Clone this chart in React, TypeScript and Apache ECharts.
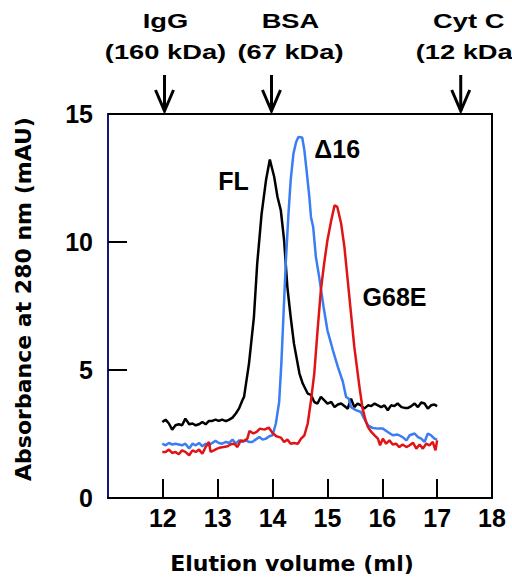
import React, { useEffect, useRef } from 'react';
import * as echarts from 'echarts';

// Elution profiles: [elution volume (ml), absorbance at 280 nm (mAU)]
const flData: [number, number][] = [
  [11.99, 2.97], [12.05, 3.06], [12.11, 2.91], [12.17, 2.67], [12.23, 2.84], [12.29, 2.88], [12.35, 2.84], [12.41, 3.1],
  [12.48, 2.88], [12.54, 2.91], [12.6, 2.84], [12.66, 2.88], [12.72, 2.97], [12.78, 2.88], [12.84, 3.01], [12.9, 3.01],
  [12.96, 3.06], [13.02, 3.01], [13.08, 3.06], [13.15, 3.0], [13.21, 3.06], [13.27, 3.14], [13.33, 3.3], [13.39, 3.5],
  [13.45, 3.82], [13.48, 3.95], [13.57, 5.25], [13.66, 7.07], [13.72, 9.16], [13.8, 11.1], [13.88, 12.41], [13.95, 13.22],
  [14.03, 12.54], [14.09, 11.76], [14.15, 11.24], [14.21, 10.07], [14.27, 8.24], [14.33, 7.07], [14.39, 6.03], [14.49, 4.86],
  [14.55, 4.47], [14.64, 4.08], [14.7, 4.03], [14.76, 3.75], [14.82, 3.69], [14.88, 3.95], [14.94, 3.82], [15.0, 3.69],
  [15.07, 3.75], [15.13, 3.55], [15.19, 3.65], [15.25, 3.69], [15.31, 3.59], [15.37, 3.49], [15.43, 3.88], [15.49, 3.55],
  [15.55, 3.69], [15.61, 3.62], [15.67, 3.49], [15.74, 3.62], [15.8, 3.59], [15.86, 3.69], [15.92, 3.62], [15.98, 3.55],
  [16.04, 3.62], [16.1, 3.43], [16.16, 3.62], [16.22, 3.59], [16.28, 3.69], [16.35, 3.55], [16.41, 3.52], [16.47, 3.52],
  [16.53, 3.59], [16.59, 3.69], [16.65, 3.55], [16.71, 3.73], [16.77, 3.69], [16.83, 3.49], [16.89, 3.62], [16.95, 3.65],
  [17.0, 3.59],
];

const d16Data: [number, number][] = [
  [11.99, 2.12], [12.05, 2.06], [12.11, 2.15], [12.17, 2.09], [12.23, 2.12], [12.29, 2.09], [12.35, 2.06], [12.41, 2.12],
  [12.48, 1.93], [12.54, 2.12], [12.6, 2.06], [12.66, 2.15], [12.72, 2.02], [12.78, 2.12], [12.84, 2.06], [12.9, 2.15],
  [12.96, 2.23], [13.02, 2.15], [13.08, 2.12], [13.15, 2.19], [13.21, 2.15], [13.27, 2.28], [13.33, 2.12], [13.39, 2.25],
  [13.45, 2.19], [13.51, 2.25], [13.57, 2.19], [13.63, 2.19], [13.69, 2.28], [13.76, 2.38], [13.82, 2.28], [13.88, 2.32],
  [13.94, 2.41], [14.0, 2.45], [14.06, 2.91], [14.12, 3.75], [14.16, 5.25], [14.2, 7.2], [14.24, 9.16], [14.29, 11.11],
  [14.33, 12.41], [14.38, 13.45], [14.43, 13.91], [14.47, 14.1], [14.54, 14.08], [14.58, 13.58], [14.62, 12.8], [14.67, 11.76],
  [14.7, 10.98], [14.74, 10.59], [14.79, 9.41], [14.85, 8.63], [14.93, 7.46], [15.0, 6.55], [15.1, 5.77], [15.19, 5.12],
  [15.28, 4.55], [15.34, 3.95], [15.39, 3.88], [15.43, 3.55], [15.52, 3.43], [15.61, 3.36], [15.67, 3.1], [15.74, 2.84],
  [15.83, 2.73], [15.92, 2.71], [16.01, 2.71], [16.1, 2.58], [16.19, 2.45], [16.28, 2.48], [16.37, 2.38], [16.44, 2.25],
  [16.5, 2.45], [16.59, 2.52], [16.65, 2.38], [16.71, 2.32], [16.77, 2.19], [16.83, 2.52], [16.89, 2.45], [16.95, 2.32],
  [17.0, 2.28],
];

const g68eData: [number, number][] = [
  [11.99, 1.8], [12.05, 1.8], [12.11, 1.89], [12.17, 1.76], [12.23, 1.8], [12.29, 1.71], [12.35, 1.86], [12.41, 1.8],
  [12.48, 1.67], [12.54, 1.86], [12.6, 1.8], [12.66, 1.89], [12.72, 1.73], [12.78, 1.99], [12.84, 2.19], [12.87, 1.8],
  [12.93, 1.86], [12.99, 1.93], [13.05, 1.97], [13.11, 1.99], [13.18, 2.02], [13.24, 2.1], [13.3, 2.12], [13.36, 1.99],
  [13.42, 2.25], [13.48, 2.23], [13.54, 2.32], [13.58, 2.62], [13.65, 2.52], [13.71, 2.58], [13.77, 2.71], [13.85, 2.67],
  [13.93, 2.75], [14.0, 2.54], [14.07, 2.41], [14.15, 2.36], [14.21, 2.19], [14.27, 2.28], [14.33, 2.12], [14.39, 2.15],
  [14.46, 2.12], [14.52, 2.32], [14.58, 2.45], [14.64, 2.9], [14.7, 3.8], [14.76, 4.86], [14.82, 6.55], [14.88, 8.11],
  [14.94, 9.16], [15.0, 10.07], [15.07, 10.85], [15.13, 11.43], [15.18, 11.37], [15.25, 10.72], [15.31, 9.8], [15.37, 8.5],
  [15.43, 7.2], [15.49, 5.9], [15.58, 4.4], [15.64, 3.5], [15.7, 3.0], [15.74, 2.77], [15.8, 2.58], [15.86, 2.45],
  [15.92, 2.32], [15.96, 2.06], [16.01, 2.32], [16.07, 2.12], [16.13, 2.25], [16.19, 2.09], [16.25, 2.12], [16.31, 1.99],
  [16.37, 2.09], [16.44, 1.99], [16.5, 2.06], [16.56, 2.16], [16.62, 1.93], [16.68, 2.09], [16.74, 1.93], [16.8, 2.12],
  [16.86, 2.06], [16.92, 2.19], [16.97, 1.86], [17.0, 2.25],
];

// Curve labels (data coordinates of the label's left edge / middle)
const curveLabels = ['FL', 'Δ16', 'G68E'];
const curveLabelX = [13.01, 14.76, 15.64];
const curveLabelY = [12.38, 13.63, 7.85];

// Molecular-weight standards marked above the plot
const standardNames = ['IgG', 'BSA', 'Cyt C'];
const standardMasses = ['(160 kDa)', '(67 kDa)', '(12 kDa)'];
const standardVolumes = [12.03, 13.98, 17.43];

const xMin = 11;
const xMax = 18;
const xStep = 1;
const yMin = 0;
const yMax = 15;
const yStep = 5;

const ARIAL = 'Liberation Sans';
const WIDE = 'DejaVu Sans';

export default function App() {
  const ref = useRef<HTMLDivElement>(null);

  useEffect(() => {
    if (!ref.current) return;
    const chart = echarts.init(ref.current, undefined, { renderer: 'svg' });

    const lineSeries = (name: string, data: [number, number][], color: string) => ({
      name,
      type: 'line',
      data,
      showSymbol: false,
      symbol: 'none',
      smooth: false,
      lineStyle: { color, width: 2.5 },
      itemStyle: { color },
    });

    chart.setOption({
      animation: false,
      textStyle: { fontFamily: ARIAL },
      grid: {
        left: 108,
        top: 114,
        right: 20,
        bottom: 82,
        show: true,
        borderColor: '#000',
        borderWidth: 2,
        backgroundColor: 'transparent',
      },
      xAxis: {
        type: 'value',
        min: xMin,
        max: xMax,
        interval: xStep,
        name: 'Elution volume (ml)',
        nameLocation: 'middle',
        nameGap: 54,
        nameTextStyle: {
          fontFamily: WIDE,
          fontWeight: 'bold',
          fontSize: 22,
          color: '#000',
          padding: [0, 16, 0, 0],
        },
        axisLine: { show: true, lineStyle: { color: '#000', width: 2 } },
        axisTick: { show: true, inside: true, length: 19, lineStyle: { color: '#000', width: 2 } },
        axisLabel: {
          showMinLabel: false,
          fontFamily: ARIAL,
          fontWeight: 'bold',
          fontSize: 25,
          color: '#000',
          margin: 7,
        },
        splitLine: { show: false },
      },
      yAxis: {
        type: 'value',
        min: yMin,
        max: yMax,
        interval: yStep,
        name: 'Absorbance at 280 nm (mAU)',
        nameLocation: 'middle',
        nameRotate: 90,
        nameGap: 74,
        nameTextStyle: {
          fontFamily: WIDE,
          fontWeight: 'bold',
          fontSize: 22,
          color: '#000',
          padding: [0, 0, 0, 14],
        },
        axisLine: { show: true, lineStyle: { color: '#15157a', width: 2 } },
        axisTick: { show: true, inside: true, length: 19, lineStyle: { color: '#000', width: 2 } },
        axisLabel: {
          fontFamily: ARIAL,
          fontWeight: 'bold',
          fontSize: 25,
          color: '#000',
          margin: 15,
        },
        splitLine: { show: false },
      },
      series: [
        lineSeries('FL', flData, '#000000'),
        lineSeries('Δ16', d16Data, '#3b7df5'),
        lineSeries('G68E', g68eData, '#e01414'),
      ],
    });

    // Annotations positioned through the chart's own scales
    const graphics: any[] = [];
    const textOffsets = [1, 19, 8];
    const topText = (text: string, x: number, y: number) => ({
      type: 'text',
      x,
      y,
      scaleX: 1.3,
      style: {
        text,
        fontFamily: ARIAL,
        fontWeight: 'bold',
        fontSize: 21,
        fill: '#000',
        align: 'center',
        verticalAlign: 'middle',
      },
    });
    standardVolumes.forEach((v, i) => {
      const px = chart.convertToPixel({ xAxisIndex: 0 }, v) as number;
      const cx = px + textOffsets[i];
      graphics.push(topText(standardNames[i], cx, 21));
      graphics.push(topText(standardMasses[i], cx, 52));
      graphics.push({
        type: 'line',
        shape: { x1: px, y1: 75, x2: px, y2: 111 },
        style: { stroke: '#000', lineWidth: 3 },
      });
      graphics.push({
        type: 'polyline',
        shape: { points: [[px - 9, 90], [px, 111], [px + 9, 90]] },
        style: { stroke: '#000', lineWidth: 3, fill: null },
      });
    });

    curveLabels.forEach((t, i) => {
      const p = chart.convertToPixel({ gridIndex: 0 }, [curveLabelX[i], curveLabelY[i]]) as number[];
      graphics.push({
        type: 'text',
        x: p[0],
        y: p[1],
        style: {
          text: t,
          fontFamily: ARIAL,
          fontWeight: 'bold',
          fontSize: 25,
          fill: '#000',
          align: 'left',
          verticalAlign: 'middle',
        },
      });
    });

    chart.setOption({ graphic: graphics });

    return () => {
      chart.dispose();
    };
  }, []);

  return (
    <div
      ref={ref}
      style={{ position: 'fixed', left: 0, top: 0, width: 512, height: 580, background: '#fff' }}
    />
  );
}
